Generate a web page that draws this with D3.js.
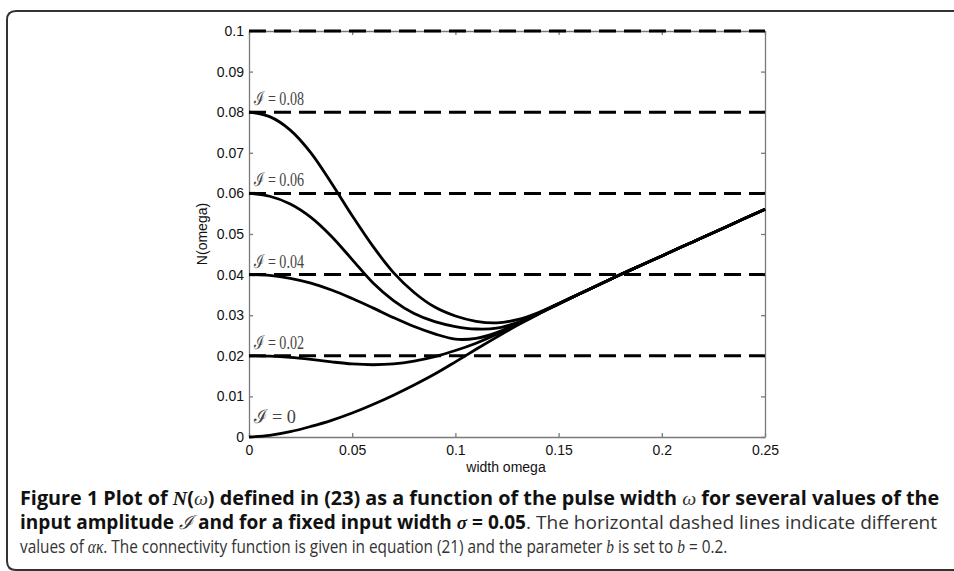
<!DOCTYPE html>
<meta charset="utf-8">
<style>

body {
  margin: 0;
  background: #fff;
}

svg {
  display: block;
}

.axis path,
.axis line {
  stroke: #7a7a7a;
  stroke-width: 1.3px;
}

.axis text {
  font: 14px "Liberation Sans", Arial, sans-serif;
  fill: #111;
}

.title {
  font: 14px "Liberation Sans", Arial, sans-serif;
  fill: #111;
}

.level {
  fill: none;
  stroke: #000;
  stroke-width: 3px;
  stroke-dasharray: 17,8;
}

.curve {
  fill: none;
  stroke: #000;
  stroke-width: 2.8px;
}

.label {
  font: 19px "Liberation Serif", "DejaVu Serif", serif;
  fill: #444;
}

.caption {
  font: 19px "Open Sans", "Liberation Sans", sans-serif;
  fill: #333;
}

.caption .b {
  font-weight: bold;
  fill: #111;
}

.caption .m {
  font-family: "Liberation Serif", "DejaVu Serif", serif;
  font-style: italic;
}

.frame {
  fill: none;
  stroke: #333;
  stroke-width: 2px;
}

</style>
<body>
<script src="https://d3js.org/d3.v7.min.js"></script>
<script>

// pulse width omega
var omega = [0, 0.01, 0.02, 0.03, 0.04, 0.05, 0.06, 0.07, 0.08, 0.09, 0.10, 0.11, 0.12,
             0.13, 0.14, 0.15, 0.16, 0.17, 0.18, 0.19, 0.20, 0.21, 0.22, 0.23, 0.24, 0.25];

// N(omega) for each input amplitude I
var nI0   = [0, 0.0004, 0.0013, 0.0026, 0.0041, 0.0059, 0.0080, 0.0103, 0.0128, 0.0155, 0.0185, 0.0216, 0.0246,
             0.0275, 0.0302, 0.0327, 0.0352, 0.0376, 0.0400, 0.0423, 0.0446, 0.0469, 0.0492, 0.0515, 0.0538, 0.0561];
var nI002 = [0.0200, 0.0199, 0.0196, 0.0191, 0.0185, 0.0180, 0.0178, 0.0180, 0.0187, 0.0198, 0.0213, 0.0231, 0.0253,
             0.0278, 0.0303, 0.0328, 0.0352, 0.0376, 0.0400, 0.0423, 0.0446, 0.0469, 0.0492, 0.0515, 0.0538, 0.0561];
var nI004 = [0.0400, 0.0398, 0.0391, 0.0379, 0.0362, 0.0341, 0.0318, 0.0294, 0.0272, 0.0254, 0.0241, 0.0243, 0.0257,
             0.0280, 0.0303, 0.0328, 0.0352, 0.0376, 0.0400, 0.0423, 0.0446, 0.0469, 0.0492, 0.0515, 0.0538, 0.0561];
var nI006 = [0.0600, 0.0593, 0.0574, 0.0541, 0.0494, 0.0437, 0.0380, 0.0336, 0.0304, 0.0284, 0.0272, 0.0266, 0.0268,
             0.0282, 0.0304, 0.0328, 0.0352, 0.0376, 0.0400, 0.0423, 0.0446, 0.0469, 0.0492, 0.0515, 0.0538, 0.0561];
var nI008 = [0.0800, 0.0789, 0.0756, 0.0700, 0.0625, 0.0545, 0.0470, 0.0405, 0.0356, 0.0320, 0.0298, 0.0285, 0.0281,
             0.0289, 0.0306, 0.0329, 0.0353, 0.0376, 0.0400, 0.0423, 0.0446, 0.0469, 0.0492, 0.0515, 0.0538, 0.0561];

var amplitudes = [0, 0.02, 0.04, 0.06, 0.08];
var amplitudeText = ["0", "0.02", "0.04", "0.06", "0.08"];

// horizontal dashed lines (values of alpha kappa)
var levels = [0.02, 0.04, 0.06, 0.08, 0.1];

var xTicks = [0, 0.05, 0.1, 0.15, 0.2, 0.25];
var yTicks = [0, 0.01, 0.02, 0.03, 0.04, 0.05, 0.06, 0.07, 0.08, 0.09, 0.1];

var width = 954,
    height = 571;

var x = d3.scaleLinear().domain([0, 0.25]).range([249, 765]);
var y = d3.scaleLinear().domain([0, 0.1]).range([437, 31]);

var svg = d3.select("body").append("svg")
    .attr("width", width)
    .attr("height", height);

// rounded panel frame, open on the right
svg.append("path")
    .attr("class", "frame")
    .attr("d", "M960,11H16Q7,11 7,20V561Q7,570 16,570H960");

var fmt = d3.format("~g");

svg.append("g")
    .attr("class", "axis")
    .attr("transform", "translate(0," + y(0) + ")")
    .call(d3.axisBottom(x).tickValues(xTicks).tickFormat(fmt)
      .tickSizeInner(-4).tickSizeOuter(0).tickPadding(8));

svg.append("g")
    .attr("class", "axis")
    .attr("transform", "translate(0," + y(0.1) + ")")
    .call(d3.axisTop(x).tickValues(xTicks).tickFormat("")
      .tickSizeInner(-4).tickSizeOuter(0));

svg.append("g")
    .attr("class", "axis")
    .attr("transform", "translate(" + x(0) + ",0)")
    .call(d3.axisLeft(y).tickValues(yTicks).tickFormat(fmt)
      .tickSizeInner(-4).tickSizeOuter(0).tickPadding(5));

svg.append("g")
    .attr("class", "axis")
    .attr("transform", "translate(" + x(0.25) + ",0)")
    .call(d3.axisRight(y).tickValues(yTicks).tickFormat("")
      .tickSizeInner(-4).tickSizeOuter(0));

svg.append("text")
    .attr("class", "title")
    .attr("x", 506)
    .attr("y", 472)
    .attr("text-anchor", "middle")
    .text("width omega");

svg.append("text")
    .attr("class", "title")
    .attr("transform", "translate(207,234)rotate(-90)")
    .attr("text-anchor", "middle")
    .text("N(omega)");

// dashed levels
svg.selectAll(".level")
    .data(levels)
  .enter().append("line")
    .attr("class", "level")
    .attr("x1", x(0))
    .attr("x2", x(0.25))
    .attr("y1", function(d) { return y(d); })
    .attr("y2", function(d) { return y(d); });

var series = [nI0, nI002, nI004, nI006, nI008];

var line = d3.line()
    .x(function(d, i) { return x(omega[i]); })
    .y(function(d) { return y(d); })
    .curve(d3.curveCatmullRom.alpha(0.5));

svg.selectAll(".curve")
    .data(series)
  .enter().append("path")
    .attr("class", "curve")
    .attr("d", line);

// I = ... labels
svg.selectAll(".label")
    .data(amplitudes)
  .enter().append("text")
    .attr("class", "label")
    .attr("x", x(0) + 5)
    .attr("y", function(d) { return y(d) - (d === 0 ? 14 : 7); })
    .attr("textLength", function(d) { return d === 0 ? 42 : 50; })
    .attr("lengthAdjust", "spacingAndGlyphs")
    .text(function(d, i) { return "\u2110 = " + amplitudeText[i]; });

// caption
var cap = svg.append("g").attr("class", "caption");

function capLine(yy, parts, w) {
  var t = cap.append("text").attr("y", yy);
  parts.forEach(function(p) {
    t.append("tspan").attr("class", p[1] || null).text(p[0]);
  });
  var len = t.node().getComputedTextLength();
  t.attr("transform", "translate(20,0)scale(" + (w / len) + ",1)");
}

capLine(505, [
  ["Figure 1 Plot of ", "b"], ["N", "b m"], ["(", "b"], ["\u03c9", "m"], [") defined in (23) as a function of the pulse width ", "b"],
  ["\u03c9", "m"], [" for several values of the", "b"]
], 920);

capLine(529, [
  ["input amplitude ", "b"], ["\u2110", "m"], [" and for a fixed input width ", "b"], ["\u03c3", "b m"], [" = 0.05", "b"],
  [". The horizontal dashed lines indicate different"]
], 918);

capLine(553, [
  ["values of "], ["\u03b1\u03ba", "m"], [". The connectivity function is given in equation (21) and the parameter "],
  ["b", "m"], [" is set to "], ["b", "m"], [" = 0.2."]
], 708);

</script>
